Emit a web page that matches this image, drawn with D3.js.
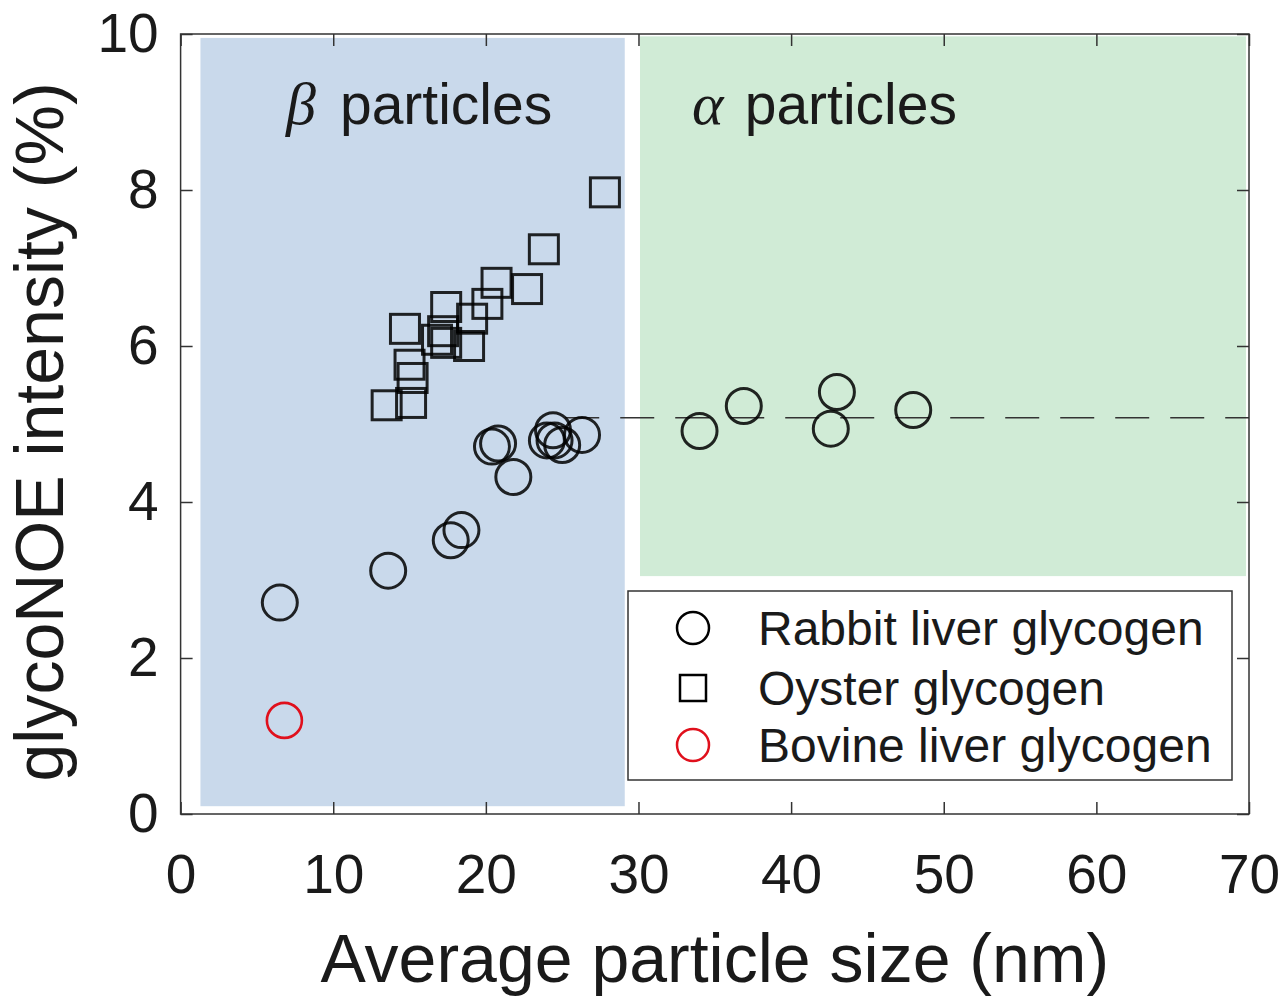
<!DOCTYPE html>
<html>
<head>
<meta charset="utf-8">
<script src="https://cdn.jsdelivr.net/npm/d3@7"></script>
<style>
    body { margin: 0; background: #fff; }
    svg text { font-family: "Liberation Sans", Arial, Helvetica, sans-serif; fill: #1a1a1a; }
</style>
</head>
<body>
<svg id="chart"></svg>
<script>
// Rabbit liver glycogen (circles)
const rabbitX = [6.5, 13.6, 17.7, 18.4, 20.4, 20.8, 21.8, 24.0, 24.4, 25.0, 26.3, 24.5, 34.0, 36.9, 43.0, 42.6, 48.0];
const rabbitY = [2.71, 3.12, 3.51, 3.64, 4.71, 4.75, 4.32, 4.79, 4.92, 4.73, 4.86, 4.79, 4.91, 5.23, 5.41, 4.94, 5.18];
// Oyster glycogen (squares)
const oysterX = [27.8, 23.8, 22.7, 20.7, 20.1, 17.4, 19.1, 14.7, 17.2, 17.4, 18.9, 16.8, 15.0, 15.2, 13.5, 15.1];
const oysterY = [7.97, 7.24, 6.73, 6.81, 6.54, 6.50, 6.35, 6.22, 6.19, 6.04, 6.00, 6.08, 5.76, 5.59, 5.24, 5.27];
// Bovine liver glycogen (red circle)
const bovineX = [6.8];
const bovineY = [1.2];

// shaded regions: [x0, x1, y0, y1]
const betaRegion = [1.3, 29.1, 0.1, 9.95];
const alphaRegion = [30.1, 69.8, 3.05, 9.97];
const dashY = 5.08;
const dashFrom = 25.2;

const xTicks = [0, 10, 20, 30, 40, 50, 60, 70];
const yTicks = [0, 2, 4, 6, 8, 10];
const legendLabels = ["Rabbit liver glycogen", "Oyster glycogen", "Bovine liver glycogen"];

const width = 1285, height = 996;
const svg = d3.select("#chart").attr("width", width).attr("height", height);

const x = d3.scaleLinear().domain([0, 70]).range([180.6, 1249]);
const y = d3.scaleLinear().domain([0, 10]).range([814, 34]);

// shaded regions
svg.append("rect")
    .attr("x", x(betaRegion[0])).attr("y", y(betaRegion[3]))
    .attr("width", x(betaRegion[1]) - x(betaRegion[0]))
    .attr("height", y(betaRegion[2]) - y(betaRegion[3]))
    .attr("fill", "#c9d9eb");

svg.append("rect")
    .attr("x", x(alphaRegion[0])).attr("y", y(alphaRegion[3]))
    .attr("width", x(alphaRegion[1]) - x(alphaRegion[0]))
    .attr("height", y(alphaRegion[2]) - y(alphaRegion[3]))
    .attr("fill", "#d0ebd6");

// region labels (greek letter in serif italic, word in sans)
function regionLabel(greek, xGreek, xWord) {
    svg.append("text").attr("x", x(xGreek)).attr("y", 124)
        .attr("font-size", 60)
        .style("font-family", "'Liberation Serif', 'Times New Roman', serif")
        .style("font-style", "italic")
        .text(greek);
    svg.append("text").attr("x", x(xWord)).attr("y", 124)
        .attr("font-size", 57)
        .text("particles");
}
regionLabel("β", 6.9, 10.44);
regionLabel("α", 33.5, 36.96);

// dashed reference line
svg.append("line")
    .attr("x1", x(dashFrom)).attr("x2", x(70))
    .attr("y1", y(dashY)).attr("y2", y(dashY))
    .attr("stroke", "#333").attr("stroke-width", 1.6)
    .attr("stroke-dasharray", "34,21");

// markers
const markerStroke = "#000";
svg.append("g").selectAll("circle")
    .data(rabbitX.map((d, i) => [d, rabbitY[i]]))
    .join("circle")
    .attr("cx", d => x(d[0])).attr("cy", d => y(d[1]))
    .attr("r", 17.5)
    .attr("fill", "none")
    .attr("stroke", markerStroke).attr("stroke-opacity", 0.85)
    .attr("stroke-width", 3);

const side = 29;
svg.append("g").selectAll("rect")
    .data(oysterX.map((d, i) => [d, oysterY[i]]))
    .join("rect")
    .attr("x", d => x(d[0]) - side / 2).attr("y", d => y(d[1]) - side / 2)
    .attr("width", side).attr("height", side)
    .attr("fill", "none")
    .attr("stroke", markerStroke).attr("stroke-opacity", 0.85)
    .attr("stroke-width", 3);

svg.append("g").selectAll("circle")
    .data(bovineX.map((d, i) => [d, bovineY[i]]))
    .join("circle")
    .attr("cx", d => x(d[0])).attr("cy", d => y(d[1]))
    .attr("r", 17.5)
    .attr("fill", "none")
    .attr("stroke", "#e0101c")
    .attr("stroke-width", 2.6);

// axes (ticks pointing inward, MATLAB style)
const axisColor = "#333";
const xAxis = svg.append("g").attr("transform", `translate(0,${y(0)})`)
    .call(d3.axisBottom(x).tickValues(xTicks).tickSizeInner(-12).tickSizeOuter(0).tickPadding(40));
const yAxis = svg.append("g").attr("transform", `translate(${x(0)},0)`)
    .call(d3.axisLeft(y).tickValues(yTicks).tickSizeInner(-12).tickSizeOuter(0).tickPadding(22));
const xTop = svg.append("g").attr("transform", `translate(0,${y(10)})`)
    .call(d3.axisTop(x).tickValues(xTicks).tickSizeInner(-12).tickSizeOuter(0).tickFormat(""));
const yRight = svg.append("g").attr("transform", `translate(${x(70)},0)`)
    .call(d3.axisRight(y).tickValues(yTicks).tickSizeInner(-12).tickSizeOuter(0).tickFormat(""));

[xAxis, yAxis, xTop, yRight].forEach(g => {
    g.select(".domain").remove();
    g.selectAll("line").attr("stroke", axisColor).attr("stroke-width", 1.5);
    g.selectAll("text").attr("font-size", 55).attr("fill", "#1a1a1a")
        .style("font-family", "'Liberation Sans', Arial, sans-serif");
});

svg.append("rect")
    .attr("x", x(0)).attr("y", y(10))
    .attr("width", x(70) - x(0)).attr("height", y(0) - y(10))
    .attr("fill", "none").attr("stroke", axisColor).attr("stroke-width", 1.5);

// axis titles
svg.append("text")
    .attr("x", (x(0) + x(70)) / 2).attr("y", 982)
    .attr("text-anchor", "middle").attr("font-size", 68)
    .text("Average particle size (nm)");

svg.append("text")
    .attr("transform", `translate(63,${(y(0) + y(10)) / 2 + 8}) rotate(-90)`)
    .attr("text-anchor", "middle").attr("font-size", 68)
    .text("glycoNOE intensity (%)");

// legend
const legend = svg.append("g");
legend.append("rect")
    .attr("x", 628).attr("y", 591).attr("width", 604).attr("height", 189)
    .attr("fill", "#fff").attr("stroke", "#333").attr("stroke-width", 1.5);

const rowY = [628, 688, 745];
legend.append("circle").attr("cx", 693).attr("cy", rowY[0]).attr("r", 16)
    .attr("fill", "none").attr("stroke", "#000").attr("stroke-width", 2.5);
legend.append("rect").attr("x", 693 - 13).attr("y", rowY[1] - 13).attr("width", 26).attr("height", 26)
    .attr("fill", "none").attr("stroke", "#000").attr("stroke-width", 2.5);
legend.append("circle").attr("cx", 693).attr("cy", rowY[2]).attr("r", 16)
    .attr("fill", "none").attr("stroke", "#e0101c").attr("stroke-width", 2.5);

legend.selectAll("text.lbl")
    .data(legendLabels)
    .join("text")
    .attr("class", "lbl")
    .attr("x", 758).attr("y", (d, i) => rowY[i] + 17)
    .attr("font-size", 48)
    .text(d => d);
</script>
</body>
</html>
